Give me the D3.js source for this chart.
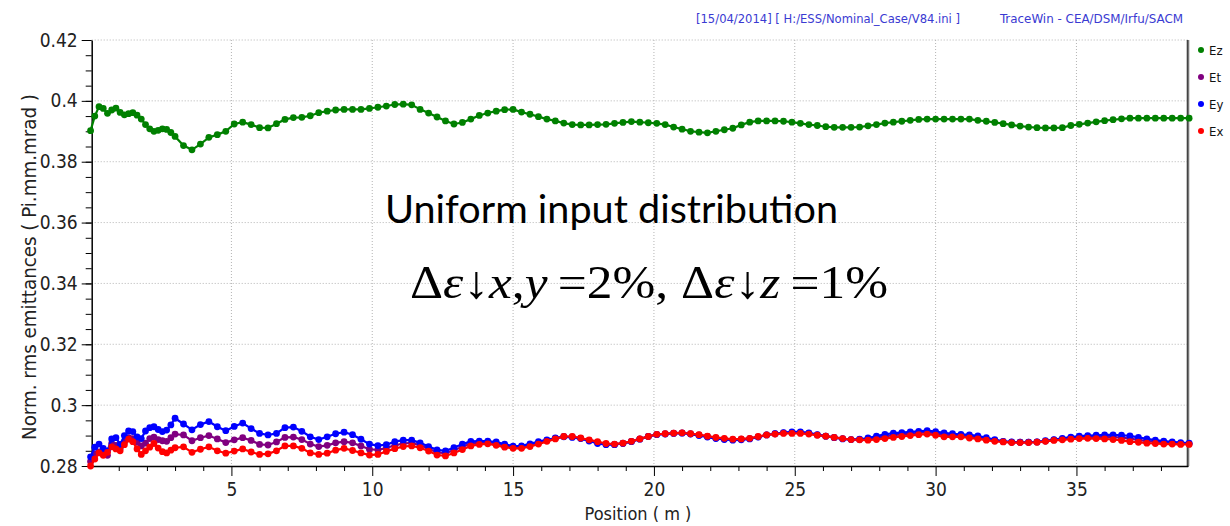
<!DOCTYPE html>
<html>
<head>
<meta charset="utf-8">
<script src="https://cdn.jsdelivr.net/npm/d3@7"></script>
<style>
body { margin: 0; background: #fff; }
.tick text { font-family: "DejaVu Sans Condensed", "DejaVu Sans", sans-serif; }
</style>
</head>
<body>
<script>
// positions along the linac (m)
var positions = [
  0, 0.15, 0.3, 0.45, 0.6, 0.75, 0.9, 1.05, 1.2, 1.35,
  1.5, 1.65, 1.8, 1.95, 2.1, 2.25, 2.4, 2.55, 2.7, 2.85,
  3.0,
  3.3, 3.6, 3.9, 4.2, 4.5, 4.8, 5.1, 5.4, 5.7, 6.0,
  6.3, 6.6, 6.9, 7.2, 7.5, 7.8, 8.1, 8.4, 8.7, 9.0,
  9.3, 9.6, 9.9, 10.2, 10.5, 10.8, 11.1, 11.4, 11.7, 12.0,
  12.3, 12.6, 12.9, 13.2, 13.5, 13.8, 14.1, 14.4, 14.7, 15.0,
  15.3, 15.6, 15.9, 16.2, 16.5, 16.8, 17.1, 17.4, 17.7, 18.0,
  18.3, 18.6, 18.9, 19.2, 19.5, 19.8, 20.1, 20.4, 20.7, 21.0,
  21.3, 21.6, 21.9, 22.2, 22.5, 22.8, 23.1, 23.4, 23.7, 24.0,
  24.3, 24.6, 24.9, 25.2, 25.5, 25.8, 26.1, 26.4, 26.7, 27.0,
  27.3, 27.6, 27.9, 28.2, 28.5, 28.8, 29.1, 29.4, 29.7, 30.0,
  30.3, 30.6, 30.9, 31.2, 31.5, 31.8, 32.1, 32.4, 32.7, 33.0,
  33.3, 33.6, 33.9, 34.2, 34.5, 34.8, 35.1, 35.4, 35.7, 36.0,
  36.3, 36.6, 36.9, 37.2, 37.5, 37.8, 38.1, 38.4, 38.7, 39.0
];

var ez = [
  0.3902, 0.3950, 0.3981, 0.3975, 0.3959, 0.3970, 0.3976, 0.3962, 0.3954, 0.3958,
  0.3961, 0.3953, 0.3940, 0.3922, 0.3908, 0.3900, 0.3903, 0.3908, 0.3906, 0.3896,
  0.3883,
  0.3853, 0.3839, 0.3858, 0.3880, 0.3889, 0.3900, 0.3924, 0.3930, 0.3922, 0.3912,
  0.3911, 0.3925, 0.3939, 0.3945, 0.3946, 0.3951, 0.3961, 0.3966, 0.3970, 0.3972,
  0.3972, 0.3972, 0.3975, 0.3979, 0.3983, 0.3988, 0.3989, 0.3987, 0.3972, 0.3960,
  0.3947, 0.3934, 0.3924, 0.3929, 0.3940, 0.3952, 0.3960, 0.3966, 0.3971, 0.3972,
  0.3963, 0.3956, 0.3948, 0.3940, 0.3934, 0.3927, 0.3922, 0.3921, 0.3921, 0.3922,
  0.3923, 0.3926, 0.3929, 0.3932, 0.3930, 0.3928, 0.3926, 0.3922, 0.3914, 0.3907,
  0.3900, 0.3897, 0.3895, 0.3900, 0.3905, 0.3910, 0.3921, 0.3930, 0.3934, 0.3934,
  0.3934, 0.3933, 0.3930, 0.3926, 0.3922, 0.3919, 0.3915, 0.3913, 0.3913, 0.3913,
  0.3914, 0.3918, 0.3922, 0.3927, 0.3930, 0.3933, 0.3936, 0.3939, 0.3940, 0.3940,
  0.3940, 0.3940, 0.3940, 0.3940, 0.3936, 0.3933, 0.3929, 0.3925, 0.3921, 0.3917,
  0.3914, 0.3912, 0.3911, 0.3911, 0.3912, 0.3919, 0.3923, 0.3927, 0.3931, 0.3935,
  0.3938, 0.3941, 0.3943, 0.3943, 0.3943, 0.3943, 0.3943, 0.3943, 0.3943, 0.3943
];

var et = [
  0.2815, 0.2840, 0.2846, 0.2840, 0.2835, 0.2874, 0.2868, 0.2858, 0.2878, 0.2893,
  0.2890, 0.2878, 0.2866, 0.2875, 0.2890, 0.2895, 0.2887, 0.2883, 0.2881, 0.2893,
  0.2905,
  0.2902, 0.2883, 0.2893, 0.2900, 0.2889, 0.2877, 0.2886, 0.2893, 0.2884, 0.2871,
  0.2869, 0.2879, 0.2894, 0.2895, 0.2887, 0.2872, 0.2864, 0.2868, 0.2876, 0.2880,
  0.2876, 0.2866, 0.2855, 0.2853, 0.2859, 0.2868, 0.2874, 0.2876, 0.2868, 0.2857,
  0.2845, 0.2842, 0.2852, 0.2863, 0.2874, 0.2877, 0.2878, 0.2874, 0.2867, 0.2862,
  0.2862, 0.2869, 0.2876, 0.2884, 0.2891, 0.2897, 0.2896, 0.2891, 0.2884, 0.2877,
  0.2872, 0.2871, 0.2875, 0.2881, 0.2889, 0.2897, 0.2904, 0.2906, 0.2908, 0.2909,
  0.2906, 0.2902, 0.2897, 0.2892, 0.2889, 0.2887, 0.2888, 0.2890, 0.2896, 0.2902,
  0.2906, 0.2909, 0.2910, 0.2910, 0.2907, 0.2902, 0.2898, 0.2894, 0.2890, 0.2887,
  0.2887, 0.2889, 0.2893, 0.2897, 0.2901, 0.2904, 0.2906, 0.2909, 0.2911, 0.2907,
  0.2903, 0.2901, 0.2900, 0.2897, 0.2894, 0.2889, 0.2884, 0.2880, 0.2878, 0.2878,
  0.2878, 0.2879, 0.2882, 0.2886, 0.2889, 0.2892, 0.2894, 0.2896, 0.2896, 0.2896,
  0.2895, 0.2893, 0.2890, 0.2886, 0.2882, 0.2880, 0.2877, 0.2876, 0.2874, 0.2873
];

var ey = [
  0.2830, 0.2862, 0.2872, 0.2858, 0.2850, 0.2889, 0.2893, 0.2871, 0.2900, 0.2915,
  0.2913, 0.2896, 0.2890, 0.2915, 0.2926, 0.2929, 0.2920, 0.2913, 0.2918, 0.2935,
  0.2957,
  0.2938, 0.2919, 0.2936, 0.2946, 0.2929, 0.2916, 0.2930, 0.2941, 0.2923, 0.2907,
  0.2902, 0.2907, 0.2926, 0.2928, 0.2914, 0.2896, 0.2887, 0.2896, 0.2906, 0.2911,
  0.2903, 0.2888, 0.2872, 0.2867, 0.2870, 0.2880, 0.2885, 0.2885, 0.2876, 0.2864,
  0.2853, 0.2850, 0.2860, 0.2872, 0.2881, 0.2882, 0.2882, 0.2879, 0.2872, 0.2865,
  0.2866, 0.2873, 0.2880, 0.2886, 0.2892, 0.2896, 0.2894, 0.2890, 0.2882, 0.2874,
  0.2870, 0.2870, 0.2874, 0.2880, 0.2888, 0.2897, 0.2903, 0.2905, 0.2907, 0.2908,
  0.2905, 0.2900, 0.2895, 0.2890, 0.2887, 0.2885, 0.2886, 0.2889, 0.2895, 0.2902,
  0.2906, 0.2910, 0.2912, 0.2912, 0.2909, 0.2903, 0.2898, 0.2893, 0.2889, 0.2887,
  0.2888, 0.2892, 0.2898, 0.2904, 0.2908, 0.2910, 0.2912, 0.2914, 0.2916, 0.2913,
  0.2909, 0.2906, 0.2904, 0.2902, 0.2899, 0.2893, 0.2887, 0.2881, 0.2879, 0.2878,
  0.2878, 0.2879, 0.2883, 0.2887, 0.2891, 0.2895, 0.2898, 0.2900, 0.2901, 0.2902,
  0.2902, 0.2901, 0.2899, 0.2894, 0.2889, 0.2885, 0.2882, 0.2879, 0.2877, 0.2875
];

var ex = [
  0.2800, 0.2823, 0.2843, 0.2835, 0.2845, 0.2863, 0.2856, 0.2850, 0.2870, 0.2888,
  0.2880, 0.2856, 0.2838, 0.2850, 0.2862, 0.2874, 0.2859, 0.2847, 0.2843, 0.2852,
  0.2860,
  0.2863, 0.2845, 0.2855, 0.2863, 0.2850, 0.2842, 0.2849, 0.2856, 0.2846, 0.2838,
  0.2840, 0.2850, 0.2866, 0.2866, 0.2858, 0.2843, 0.2838, 0.2842, 0.2852, 0.2858,
  0.2851, 0.2843, 0.2836, 0.2838, 0.2848, 0.2857, 0.2864, 0.2866, 0.2860, 0.2849,
  0.2836, 0.2833, 0.2843, 0.2854, 0.2866, 0.2871, 0.2873, 0.2868, 0.2862, 0.2858,
  0.2858, 0.2864, 0.2872, 0.2881, 0.2889, 0.2897, 0.2897, 0.2892, 0.2886, 0.2880,
  0.2874, 0.2872, 0.2875, 0.2881, 0.2889, 0.2897, 0.2904, 0.2906, 0.2908, 0.2909,
  0.2906, 0.2903, 0.2898, 0.2894, 0.2891, 0.2888, 0.2889, 0.2891, 0.2897, 0.2902,
  0.2905, 0.2907, 0.2907, 0.2907, 0.2905, 0.2901, 0.2898, 0.2894, 0.2890, 0.2887,
  0.2886, 0.2885, 0.2887, 0.2890, 0.2894, 0.2897, 0.2900, 0.2903, 0.2905, 0.2901,
  0.2896, 0.2896, 0.2896, 0.2892, 0.2889, 0.2885, 0.2881, 0.2879, 0.2877, 0.2877,
  0.2877, 0.2878, 0.2881, 0.2884, 0.2886, 0.2888, 0.2890, 0.2891, 0.2890, 0.2889,
  0.2887, 0.2884, 0.2880, 0.2878, 0.2875, 0.2874, 0.2872, 0.2872, 0.2871, 0.2871
];

var seriesNames = ["Ez", "Et", "Ey", "Ex"];
var seriesValues = [ez, et, ey, ex];
var seriesColors = ["#008000", "#800080", "#0000ff", "#ff0000"];

var xTickValues = [5, 10, 15, 20, 25, 30, 35];
var yTickValues = [0.28, 0.30, 0.32, 0.34, 0.36, 0.38, 0.40, 0.42];

var headerLeft = "[15/04/2014] [ H:/ESS/Nominal_Case/V84.ini ]";
var headerRight = "TraceWin - CEA/DSM/Irfu/SACM";
var xTitle = "Position ( m )";
var yTitle = "Norm. rms emittances ( Pi.mm.mrad )";
var noteTitle = "Uniform input distribution";

//Set the dimensions
var margin = {top: 40, right: 42.3, bottom: 60, left: 91.7},
    width = 1230 - margin.left - margin.right,
    height = 526 - margin.top - margin.bottom;

var x = d3.scaleLinear().domain([0.04, 38.95]).range([0, width]);
var y = d3.scaleLinear().domain([0.28, 0.42]).range([height, 0]);

var svg = d3.select("body").append("svg")
    .attr("width", 1230)
    .attr("height", 526);

var g = svg.append("g")
    .attr("transform", "translate(" + margin.left + "," + margin.top + ")");

// dotted grid
g.append("g").selectAll("line").data(xTickValues).enter().append("line")
    .attr("x1", function(d) { return x(d); }).attr("x2", function(d) { return x(d); })
    .attr("y1", 0).attr("y2", height)
    .attr("stroke", "#b4b4b4").attr("stroke-dasharray", "1,2");
g.append("g").selectAll("line").data(yTickValues.slice(1)).enter().append("line")
    .attr("x1", 0).attr("x2", width)
    .attr("y1", function(d) { return y(d); }).attr("y2", function(d) { return y(d); })
    .attr("stroke", "#b4b4b4").attr("stroke-dasharray", "1,2");

// right frame
g.append("line").attr("x1", width + 1.5).attr("x2", width + 1.5).attr("y1", 0).attr("y2", height)
    .attr("stroke", "#c8c8c8").attr("stroke-width", 1);
g.append("line").attr("x1", width).attr("x2", width).attr("y1", 0).attr("y2", height + 1)
    .attr("stroke", "#444").attr("stroke-width", 2);

// Add the Y axis (minor, then major)
g.append("g")
    .call(d3.axisLeft(y).tickValues(d3.range(0.285, 0.42, 0.005)).tickSize(6).tickFormat(""))
    .call(function(s) { s.select(".domain").remove(); });
var yAxis = g.append("g")
    .call(d3.axisLeft(y).tickValues(yTickValues).tickSize(10).tickSizeOuter(0).tickPadding(4)
        .tickFormat(function(d) { return String(+d.toFixed(2)); }));
yAxis.selectAll("text").attr("font-size", 19).attr("fill", "#222");

// Add the X axis
g.append("g").attr("transform", "translate(0," + height + ")")
    .call(d3.axisBottom(x).tickValues(d3.range(1, 39).filter(function(d) { return d % 5 !== 0; }))
        .tickSize(5).tickFormat(""))
    .call(function(s) { s.select(".domain").remove(); });
var xAxis = g.append("g").attr("transform", "translate(0," + height + ")")
    .call(d3.axisBottom(x).tickValues(xTickValues).tickSize(10).tickSizeOuter(0).tickPadding(7));
xAxis.selectAll("text").attr("font-size", 19).attr("fill", "#222");

g.selectAll(".domain").attr("stroke-width", 1.5);

// series
var valueline = d3.line()
    .x(function(d) { return x(d[0]); })
    .y(function(d) { return y(d[1]); });

seriesValues.forEach(function(vals, i) {
  var pts = positions.map(function(p, k) { return [p, vals[k]]; });
  g.append("path").datum(pts)
      .attr("d", valueline)
      .attr("fill", "none")
      .attr("stroke", seriesColors[i])
      .attr("stroke-width", 2.2);
  g.append("g").selectAll("circle").data(pts).enter().append("circle")
      .attr("cx", function(d) { return x(d[0]); })
      .attr("cy", function(d) { return y(d[1]); })
      .attr("r", 3.4)
      .attr("fill", seriesColors[i]);
});

// legend
var legend = svg.append("g").attr("transform", "translate(1201,50)");
seriesNames.forEach(function(n, i) {
  legend.append("circle").attr("cx", 0).attr("cy", i * 27).attr("r", 3).attr("fill", seriesColors[i]);
  legend.append("text").attr("x", 8).attr("y", i * 27 + 4.5).text(n)
      .attr("font-family", "DejaVu Sans Condensed, DejaVu Sans, sans-serif")
      .attr("font-size", 13).attr("fill", "#111");
});

// header
svg.append("text").attr("x", 696).attr("y", 23).text(headerLeft)
    .attr("font-family", "DejaVu Sans Condensed, DejaVu Sans, sans-serif")
    .attr("font-size", 12).attr("fill", "#3a3ad2")
    .attr("textLength", 264).attr("lengthAdjust", "spacingAndGlyphs");
svg.append("text").attr("x", 1000).attr("y", 23).text(headerRight)
    .attr("font-family", "DejaVu Sans Condensed, DejaVu Sans, sans-serif")
    .attr("font-size", 12).attr("fill", "#3a3ad2")
    .attr("textLength", 183).attr("lengthAdjust", "spacingAndGlyphs");

// axis titles
svg.append("text").attr("x", 638).attr("y", 520).attr("text-anchor", "middle").text(xTitle)
    .attr("font-family", "DejaVu Sans Condensed, DejaVu Sans, sans-serif")
    .attr("font-size", 18).attr("fill", "#222");
svg.append("text").attr("transform", "translate(36,267) rotate(-90)")
    .attr("text-anchor", "middle").text(yTitle)
    .attr("font-family", "DejaVu Sans Condensed, DejaVu Sans, sans-serif")
    .attr("font-size", 19).attr("fill", "#222")
    .attr("textLength", 346).attr("lengthAdjust", "spacingAndGlyphs");

// annotation
svg.append("text").attr("x", 385).attr("y", 223).text(noteTitle)
    .attr("font-family", "Lato, sans-serif").attr("font-size", 39).attr("fill", "#000")
    .attr("textLength", 453).attr("lengthAdjust", "spacingAndGlyphs");

var formula = svg.append("text").attr("x", 410).attr("y", 298)
    .attr("font-family", "Liberation Serif, DejaVu Serif, serif").attr("font-size", 46)
    .attr("fill", "#000").attr("textLength", 478).attr("lengthAdjust", "spacingAndGlyphs");
[["\u0394", 0], ["\u03b5", 1], ["\u2193", 0], ["x", 1], [",", 0], ["y", 1], ["\u2009=2%, ", 0],
 ["\u0394", 0], ["\u03b5", 1], ["\u2193", 0], ["z", 1], ["\u2009=1%", 0]].forEach(function(p) {
  formula.append("tspan").text(p[0]).attr("font-style", p[1] ? "italic" : "normal");
});
</script>
</body>
</html>
